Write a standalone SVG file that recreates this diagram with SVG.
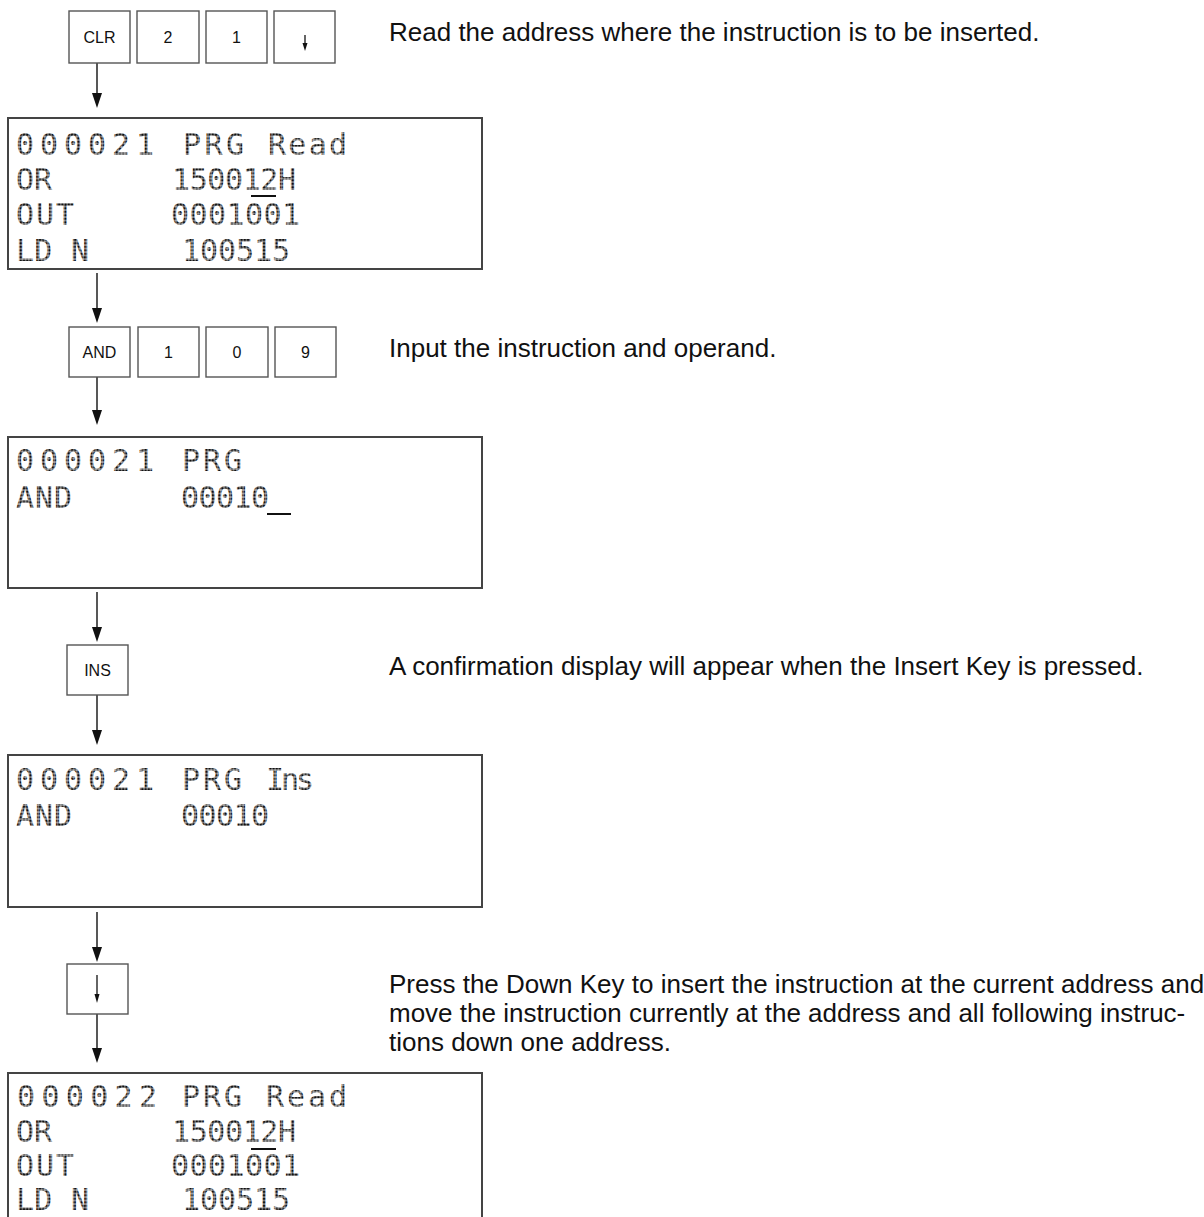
<svg xmlns="http://www.w3.org/2000/svg" width="1204" height="1217" viewBox="0 0 1204 1217">
<style>
.key{fill:#fff;stroke:#555;stroke-width:1.4}
.kl{font-family:"Liberation Sans",Arial,sans-serif;font-size:16px;fill:#111;text-anchor:middle}
.lcd{fill:#fff;stroke:#444;stroke-width:2}
.lt{font-family:"DejaVu Sans Mono",monospace;font-size:30px;fill:url(#dots)}
.desc{font-family:"Liberation Sans",Arial,sans-serif;font-size:26px;fill:#111}
.ucur{fill:#111}
.ln{stroke:#111;stroke-width:1.4}
.hd{fill:#111}
</style>
<defs>
<pattern id="dots" patternUnits="userSpaceOnUse" width="3.2" height="3.5">
<rect width="3.2" height="3.5" fill="#aaa"/>
<circle cx="1.6" cy="1.75" r="1.35" fill="#111"/>
</pattern>
</defs>

<g id="connectors">
<line class="ln" x1="97" y1="63" x2="97" y2="95"/><path class="hd" d="M92,93 L102,93 L97,108 Z"/>
<line class="ln" x1="97" y1="273" x2="97" y2="310"/><path class="hd" d="M92,308 L102,308 L97,323 Z"/>
<line class="ln" x1="97" y1="377" x2="97" y2="412"/><path class="hd" d="M92,410 L102,410 L97,425 Z"/>
<line class="ln" x1="97" y1="592" x2="97" y2="629"/><path class="hd" d="M92,627 L102,627 L97,642 Z"/>
<line class="ln" x1="97" y1="695" x2="97" y2="732"/><path class="hd" d="M92,730 L102,730 L97,745 Z"/>
<line class="ln" x1="97" y1="912" x2="97" y2="949"/><path class="hd" d="M92,947 L102,947 L97,962 Z"/>
<line class="ln" x1="97" y1="1014" x2="97" y2="1050"/><path class="hd" d="M92,1048 L102,1048 L97,1063 Z"/>
</g>

<g id="key-clr"><rect class="key" x="69" y="11" width="61" height="52"/><text class="kl" x="99.5" y="43">CLR</text></g>
<g id="key-2"><rect class="key" x="137" y="11" width="62" height="52"/><text class="kl" x="168" y="43">2</text></g>
<g id="key-1"><rect class="key" x="206" y="11" width="61" height="52"/><text class="kl" x="236.5" y="43">1</text></g>
<g id="key-down1"><rect class="key" x="274" y="11" width="61" height="52"/>
<line x1="305" y1="35" x2="305" y2="45" stroke="#111" stroke-width="1.3"/><path class="hd" d="M302.5,43 L307.5,43 L305,51 Z"/></g>

<g id="desc1"><text class="desc" x="389" y="41">Read the address where the instruction is to be inserted.</text></g>

<g id="lcd1">
<rect class="lcd" x="8" y="118" width="474" height="151"/>
<text class="lt"><tspan x="16" y="155" textLength="138" lengthAdjust="spacing">000021</tspan><tspan x="183" y="155" textLength="61" lengthAdjust="spacing">PRG</tspan><tspan x="268" y="155" textLength="79" lengthAdjust="spacing">Read</tspan><tspan x="16" y="190.2" textLength="36" lengthAdjust="spacing">OR</tspan><tspan x="172" y="190.2" textLength="124" lengthAdjust="spacing">150012H</tspan><tspan x="16" y="225.4" textLength="58" lengthAdjust="spacing">OUT</tspan><tspan x="171" y="225.4" textLength="129" lengthAdjust="spacing">0001001</tspan><tspan x="16" y="260.6" textLength="73" lengthAdjust="spacing">LD N</tspan><tspan x="182" y="260.6" textLength="108" lengthAdjust="spacing">100515</tspan></text>
<rect class="ucur" x="251" y="195" width="25" height="2"/>
</g>

<g id="key-and"><rect class="key" x="69" y="327" width="61" height="50"/><text class="kl" x="99.5" y="358">AND</text></g>
<g id="key-1b"><rect class="key" x="138" y="327" width="61" height="50"/><text class="kl" x="168.5" y="358">1</text></g>
<g id="key-0"><rect class="key" x="206" y="327" width="62" height="50"/><text class="kl" x="237" y="358">0</text></g>
<g id="key-9"><rect class="key" x="275" y="327" width="61" height="50"/><text class="kl" x="305.5" y="358">9</text></g>

<g id="desc2"><text class="desc" x="389" y="357">Input the instruction and operand.</text></g>

<g id="lcd2">
<rect class="lcd" x="8" y="437" width="474" height="151"/>
<text class="lt"><tspan x="16" y="471" textLength="138" lengthAdjust="spacing">000021</tspan><tspan x="182" y="471" textLength="60" lengthAdjust="spacing">PRG</tspan><tspan x="16" y="508" textLength="56" lengthAdjust="spacing">AND</tspan><tspan x="181" y="508" textLength="88" lengthAdjust="spacing">00010</tspan></text>
<rect class="ucur" x="267" y="513" width="24" height="2"/>
</g>

<g id="key-ins"><rect class="key" x="67" y="645" width="61" height="50"/><text class="kl" x="97.5" y="676">INS</text></g>

<g id="desc3"><text class="desc" x="389" y="675">A confirmation display will appear when the Insert Key is pressed.</text></g>

<g id="lcd3">
<rect class="lcd" x="8" y="755" width="474" height="152"/>
<text class="lt"><tspan x="16" y="790" textLength="138" lengthAdjust="spacing">000021</tspan><tspan x="182" y="790" textLength="60" lengthAdjust="spacing">PRG</tspan><tspan x="266" y="790" textLength="48" lengthAdjust="spacing">Ins</tspan><tspan x="16" y="826" textLength="56" lengthAdjust="spacing">AND</tspan><tspan x="181" y="826" textLength="88" lengthAdjust="spacing">00010</tspan></text>
</g>

<g id="key-down2"><rect class="key" x="67" y="964" width="61" height="50"/>
<line x1="97" y1="975" x2="97" y2="996" stroke="#111" stroke-width="1.3"/><path class="hd" d="M94.5,994 L99.5,994 L97,1003 Z"/></g>

<g id="desc4">
<text class="desc" x="389" y="993">Press the Down Key to insert the instruction at the current address and</text>
<text class="desc" x="389" y="1022">move the instruction currently at the address and all following instruc-</text>
<text class="desc" x="389" y="1051">tions down one address.</text>
</g>

<g id="lcd4">
<rect class="lcd" x="8" y="1073" width="474" height="160"/>
<text class="lt"><tspan x="17" y="1107" textLength="140" lengthAdjust="spacing">000022</tspan><tspan x="182" y="1107" textLength="60" lengthAdjust="spacing">PRG</tspan><tspan x="266" y="1107" textLength="81" lengthAdjust="spacing">Read</tspan><tspan x="16" y="1141.5" textLength="36" lengthAdjust="spacing">OR</tspan><tspan x="172" y="1141.5" textLength="124" lengthAdjust="spacing">150012H</tspan><tspan x="16" y="1176" textLength="58" lengthAdjust="spacing">OUT</tspan><tspan x="171" y="1176" textLength="129" lengthAdjust="spacing">0001001</tspan><tspan x="16" y="1210" textLength="73" lengthAdjust="spacing">LD N</tspan><tspan x="182" y="1210" textLength="108" lengthAdjust="spacing">100515</tspan></text>
<rect class="ucur" x="251" y="1148" width="25" height="2"/>
</g>
</svg>
